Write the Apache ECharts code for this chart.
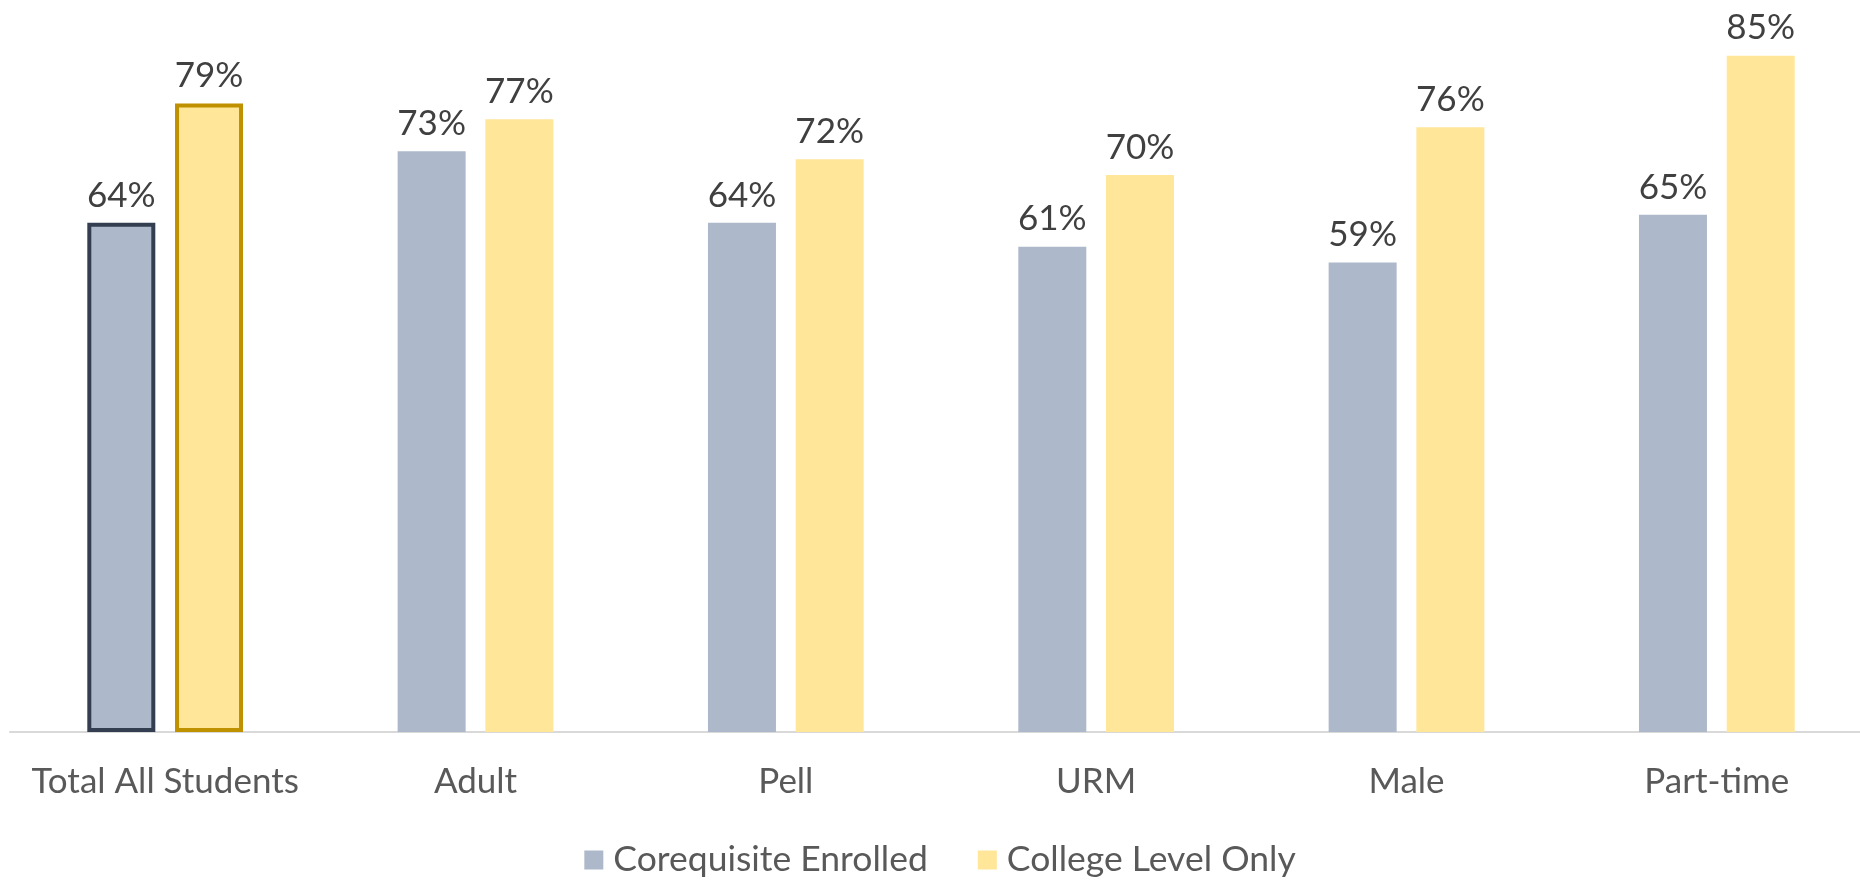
<!DOCTYPE html>
<html><head><meta charset="utf-8">
<script src="https://cdn.jsdelivr.net/npm/echarts@6/dist/echarts.min.js"></script>
<style>html,body{margin:0;padding:0;background:#fff;overflow:hidden}#c{width:1880px;height:881px}</style>
</head><body><div id="c"></div>
<script>
const categories = ['Total All Students','Adult','Pell','URM','Male','Part-time'];
const seriesNames = ['Corequisite Enrolled','College Level Only'];
const coreqValues = [64,73,64,61,59,65];
const collegeValues = [79,77,72,70,76,85];

const FONT = 'Lato';
const chart = echarts.init(document.getElementById('c'));
function mkData(vals, border){
  return vals.map((v,i)=> i===0 ? {value:v,itemStyle:{borderColor:border,borderWidth:4}} : v);
}
chart.setOption({
  animation:false,
  grid:{left:10,width:1862,top:0,bottom:149,containLabel:false,outerBoundsMode:'none'},
  legend:{bottom:-2,left:'center',itemWidth:19,itemHeight:19,itemGap:50,icon:'rect',
    textStyle:{fontFamily:FONT,fontSize:35.5,color:'#595959',padding:[0,0,0,5]},data:seriesNames},
  xAxis:{type:'category',data:categories,
    axisLine:{lineStyle:{color:'#D9D9D9',width:2}},axisTick:{show:false},
    axisLabel:{fontFamily:FONT,fontSize:35,color:'#595959',margin:32,interval:0}},
  yAxis:{type:'value',min:0,max:92,show:false,splitLine:{show:false}},
  series:[
    {name:seriesNames[0],type:'bar',barWidth:68,barGap:'29%',data:mkData(coreqValues,'#333F50'),
     itemStyle:{color:'#ADB9CA'},
     label:{show:true,position:'top',distance:10,formatter:'{c}%',fontFamily:FONT,fontSize:35,color:'#404040'}},
    {name:seriesNames[1],type:'bar',barWidth:68,data:mkData(collegeValues,'#BF9000'),
     itemStyle:{color:'#FFE699'},
     label:{show:true,position:'top',distance:10,formatter:'{c}%',fontFamily:FONT,fontSize:35,color:'#404040'}}
  ]
});
</script></body></html>
